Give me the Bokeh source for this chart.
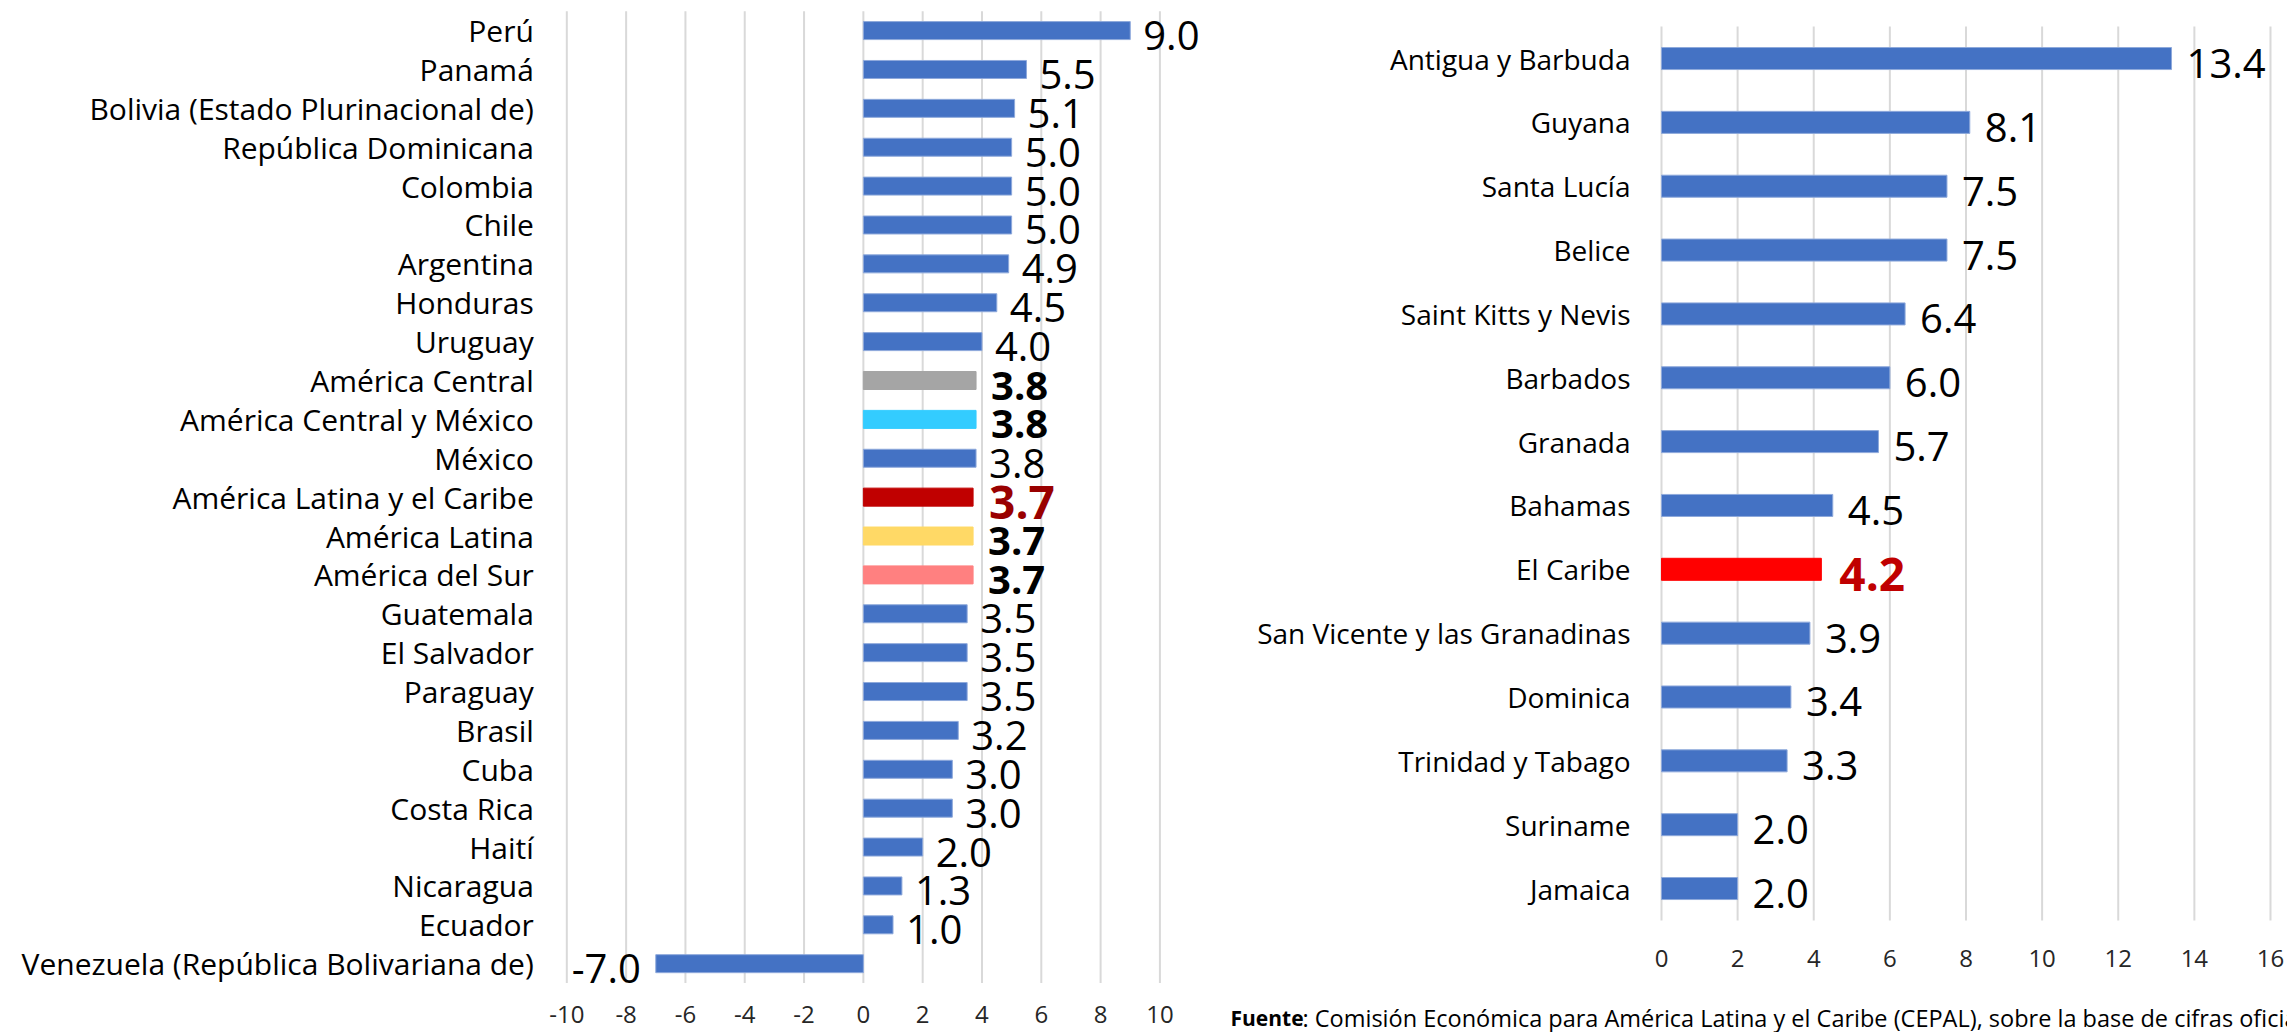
from bokeh.plotting import figure
from bokeh.models import (ColumnDataSource, LabelSet, Label, FixedTicker, Range1d, LinearAxis)
from bokeh.embed import file_html
from bokeh.resources import INLINE
from bokeh.core.properties import value

# ---------------- data ----------------
left_categories = ["Perú", "Panamá", "Bolivia (Estado Plurinacional de)", "República Dominicana",
                   "Colombia", "Chile", "Argentina", "Honduras", "Uruguay", "América Central",
                   "América Central y México", "México", "América Latina y el Caribe",
                   "América Latina", "América del Sur", "Guatemala", "El Salvador", "Paraguay",
                   "Brasil", "Cuba", "Costa Rica", "Haití", "Nicaragua", "Ecuador",
                   "Venezuela (República Bolivariana de)"]
left_values = [9.0, 5.5, 5.1, 5.0, 5.0, 5.0, 4.9, 4.5, 4.0, 3.8, 3.8, 3.8, 3.7, 3.7, 3.7,
               3.5, 3.5, 3.5, 3.2, 3.0, 3.0, 2.0, 1.3, 1.0, -7.0]
left_ticks = [-10, -8, -6, -4, -2, 0, 2, 4, 6, 8, 10]

right_categories = ["Antigua y Barbuda", "Guyana", "Santa Lucía", "Belice", "Saint Kitts y Nevis",
                    "Barbados", "Granada", "Bahamas", "El Caribe", "San Vicente y las Granadinas",
                    "Dominica", "Trinidad y Tabago", "Suriname", "Jamaica"]
right_values = [13.4, 8.1, 7.5, 7.5, 6.4, 6.0, 5.7, 4.5, 4.2, 3.9, 3.4, 3.3, 2.0, 2.0]
right_ticks = [0, 2, 4, 6, 8, 10, 12, 14, 16]

source_bold = "Fuente"
source_rest = ": Comisión Económica para América Latina y el Caribe (CEPAL), sobre la base de cifras oficiales."

# ---------------- styles ----------------
BLUE = "#4472C4"
BLUE_EDGE = "#8EA9DB"
GRID = "#D9D9D9"
left_bar_colors = {"América Central": "#A5A5A5", "América Central y México": "#33CCFF",
                   "América Latina y el Caribe": "#C00000", "América Latina": "#FFD966",
                   "América del Sur": "#FF8080"}
left_bold = ["América Central", "América Central y México", "América Latina", "América del Sur"]
left_red = {"América Latina y el Caribe": "#990000"}
right_bar_colors = {"El Caribe": "#FF0000"}
right_red = {"El Caribe": "#C00000"}

FONT = "Open Sans"
W, H = 2287, 1032
LAB_DY = -5  # shift value labels slightly below the bar centre

# Ranges chosen so that the plot frame covers the whole canvas
p = figure(width=W, height=H, output_backend="svg", toolbar_location=None,
           x_axis_location=None, y_axis_location=None,
           x_range=Range1d(-29.097, 48.024), y_range=Range1d(-1.770, 24.774),
           min_border_left=0, min_border_right=0, min_border_top=0, min_border_bottom=0)
p.extra_x_ranges = {"r": Range1d(-43.639, 16.447)}
p.extra_y_ranges = {"r": Range1d(-2.255, 13.909)}
p.outline_line_color = None
p.background_fill_color = "white"
p.border_fill_color = "white"
p.grid.visible = False


def chart(cats, vals, ticks, rname, bar_h, bar_colors, bold_set, red_map, cat_font, lab_off,
          cat_standoff, tick_standoff, y_axis_at):
    kw = {} if rname is None else dict(x_range_name=rname, y_range_name=rname)
    n = len(cats)
    ypos = [n - 1 - i for i in range(n)]
    # grid lines spanning only the category band
    p.segment(x0=ticks, x1=ticks, y0=[-0.5] * len(ticks), y1=[n - 0.5] * len(ticks),
              line_color=GRID, line_width=2, **kw)
    colors = [bar_colors.get(c, BLUE) for c in cats]
    lines = [bar_colors.get(c, BLUE_EDGE) for c in cats]
    src = ColumnDataSource(dict(y=ypos, val=vals, color=colors, line=lines))
    p.hbar(y="y", right="val", left=0, height=bar_h, fill_color="color",
           line_color="line", line_width=1, source=src, **kw)

    xax = LinearAxis(fixed_location=-0.5, ticker=FixedTicker(ticks=ticks),
                     major_label_overrides={t: str(t) for t in ticks}, **kw)
    yax = LinearAxis(fixed_location=y_axis_at, ticker=FixedTicker(ticks=ypos),
                     major_label_overrides={y: c for y, c in zip(ypos, cats)}, **kw)
    for ax in (xax, yax):
        ax.axis_line_color = None
        ax.major_tick_line_color = None
        ax.minor_tick_line_color = None
        ax.major_tick_out = 0
        ax.major_tick_in = 0
        ax.minor_tick_out = 0
        ax.minor_tick_in = 0
        ax.major_label_text_font = FONT
    xax.major_label_text_font_size = "24px"
    xax.major_label_text_color = "#262626"
    xax.major_label_standoff = tick_standoff
    yax.major_label_text_font_size = cat_font
    yax.major_label_text_color = "#000000"
    yax.major_label_standoff = cat_standoff
    p.add_layout(xax, "below")
    p.add_layout(yax, "left")

    def sub(sel):
        idx = [i for i, c in enumerate(cats) if sel(c, vals[i])]
        return ColumnDataSource(dict(y=[ypos[i] for i in idx], val=[vals[i] for i in idx],
                                     lab=[f"{vals[i]:.1f}" for i in idx]))

    common = dict(x="val", y="y", text="lab", text_baseline="middle", text_font=value(FONT),
                  y_offset=LAB_DY, **kw)
    p.add_layout(LabelSet(source=sub(lambda c, v: v >= 0 and c not in bold_set and c not in red_map),
                          x_offset=lab_off, text_align="left", text_font_size="40px",
                          text_color="#000000", **common))
    p.add_layout(LabelSet(source=sub(lambda c, v: v < 0), x_offset=-15, text_align="right",
                          text_font_size="40px", text_color="#000000", **common))
    if bold_set:
        p.add_layout(LabelSet(source=sub(lambda c, v: c in bold_set), x_offset=lab_off + 2,
                              text_align="left", text_font_size="40px", text_font_style="bold",
                              text_color="#000000", **common))
    for c, col in red_map.items():
        p.add_layout(LabelSet(source=sub(lambda cc, v, c=c: cc == c), x_offset=lab_off + 3,
                              text_align="left", text_font_size="46px", text_font_style="bold",
                              text_color=col, **common))


chart(left_categories, left_values, left_ticks, None, 0.463, left_bar_colors, left_bold,
      left_red, "30px", 13, 33, 23, -10)
chart(right_categories, right_values, right_ticks, "r", 0.345, right_bar_colors, [],
      right_red, "28px", 15, 31, 30, 0)

# source note (screen units, relative to the frame = whole canvas)
p.add_layout(Label(x=1230, y=15, x_units="screen", y_units="screen", text=source_bold,
                   text_font=FONT, text_font_size="21px", text_font_style="bold",
                   text_color="#000000", text_baseline="alphabetic"))
p.add_layout(Label(x=1302, y=15, x_units="screen", y_units="screen", text=source_rest,
                   text_font=FONT, text_font_size="23.5px", text_color="#000000",
                   text_baseline="alphabetic"))

open("out.html", "w").write(file_html(p, INLINE))
